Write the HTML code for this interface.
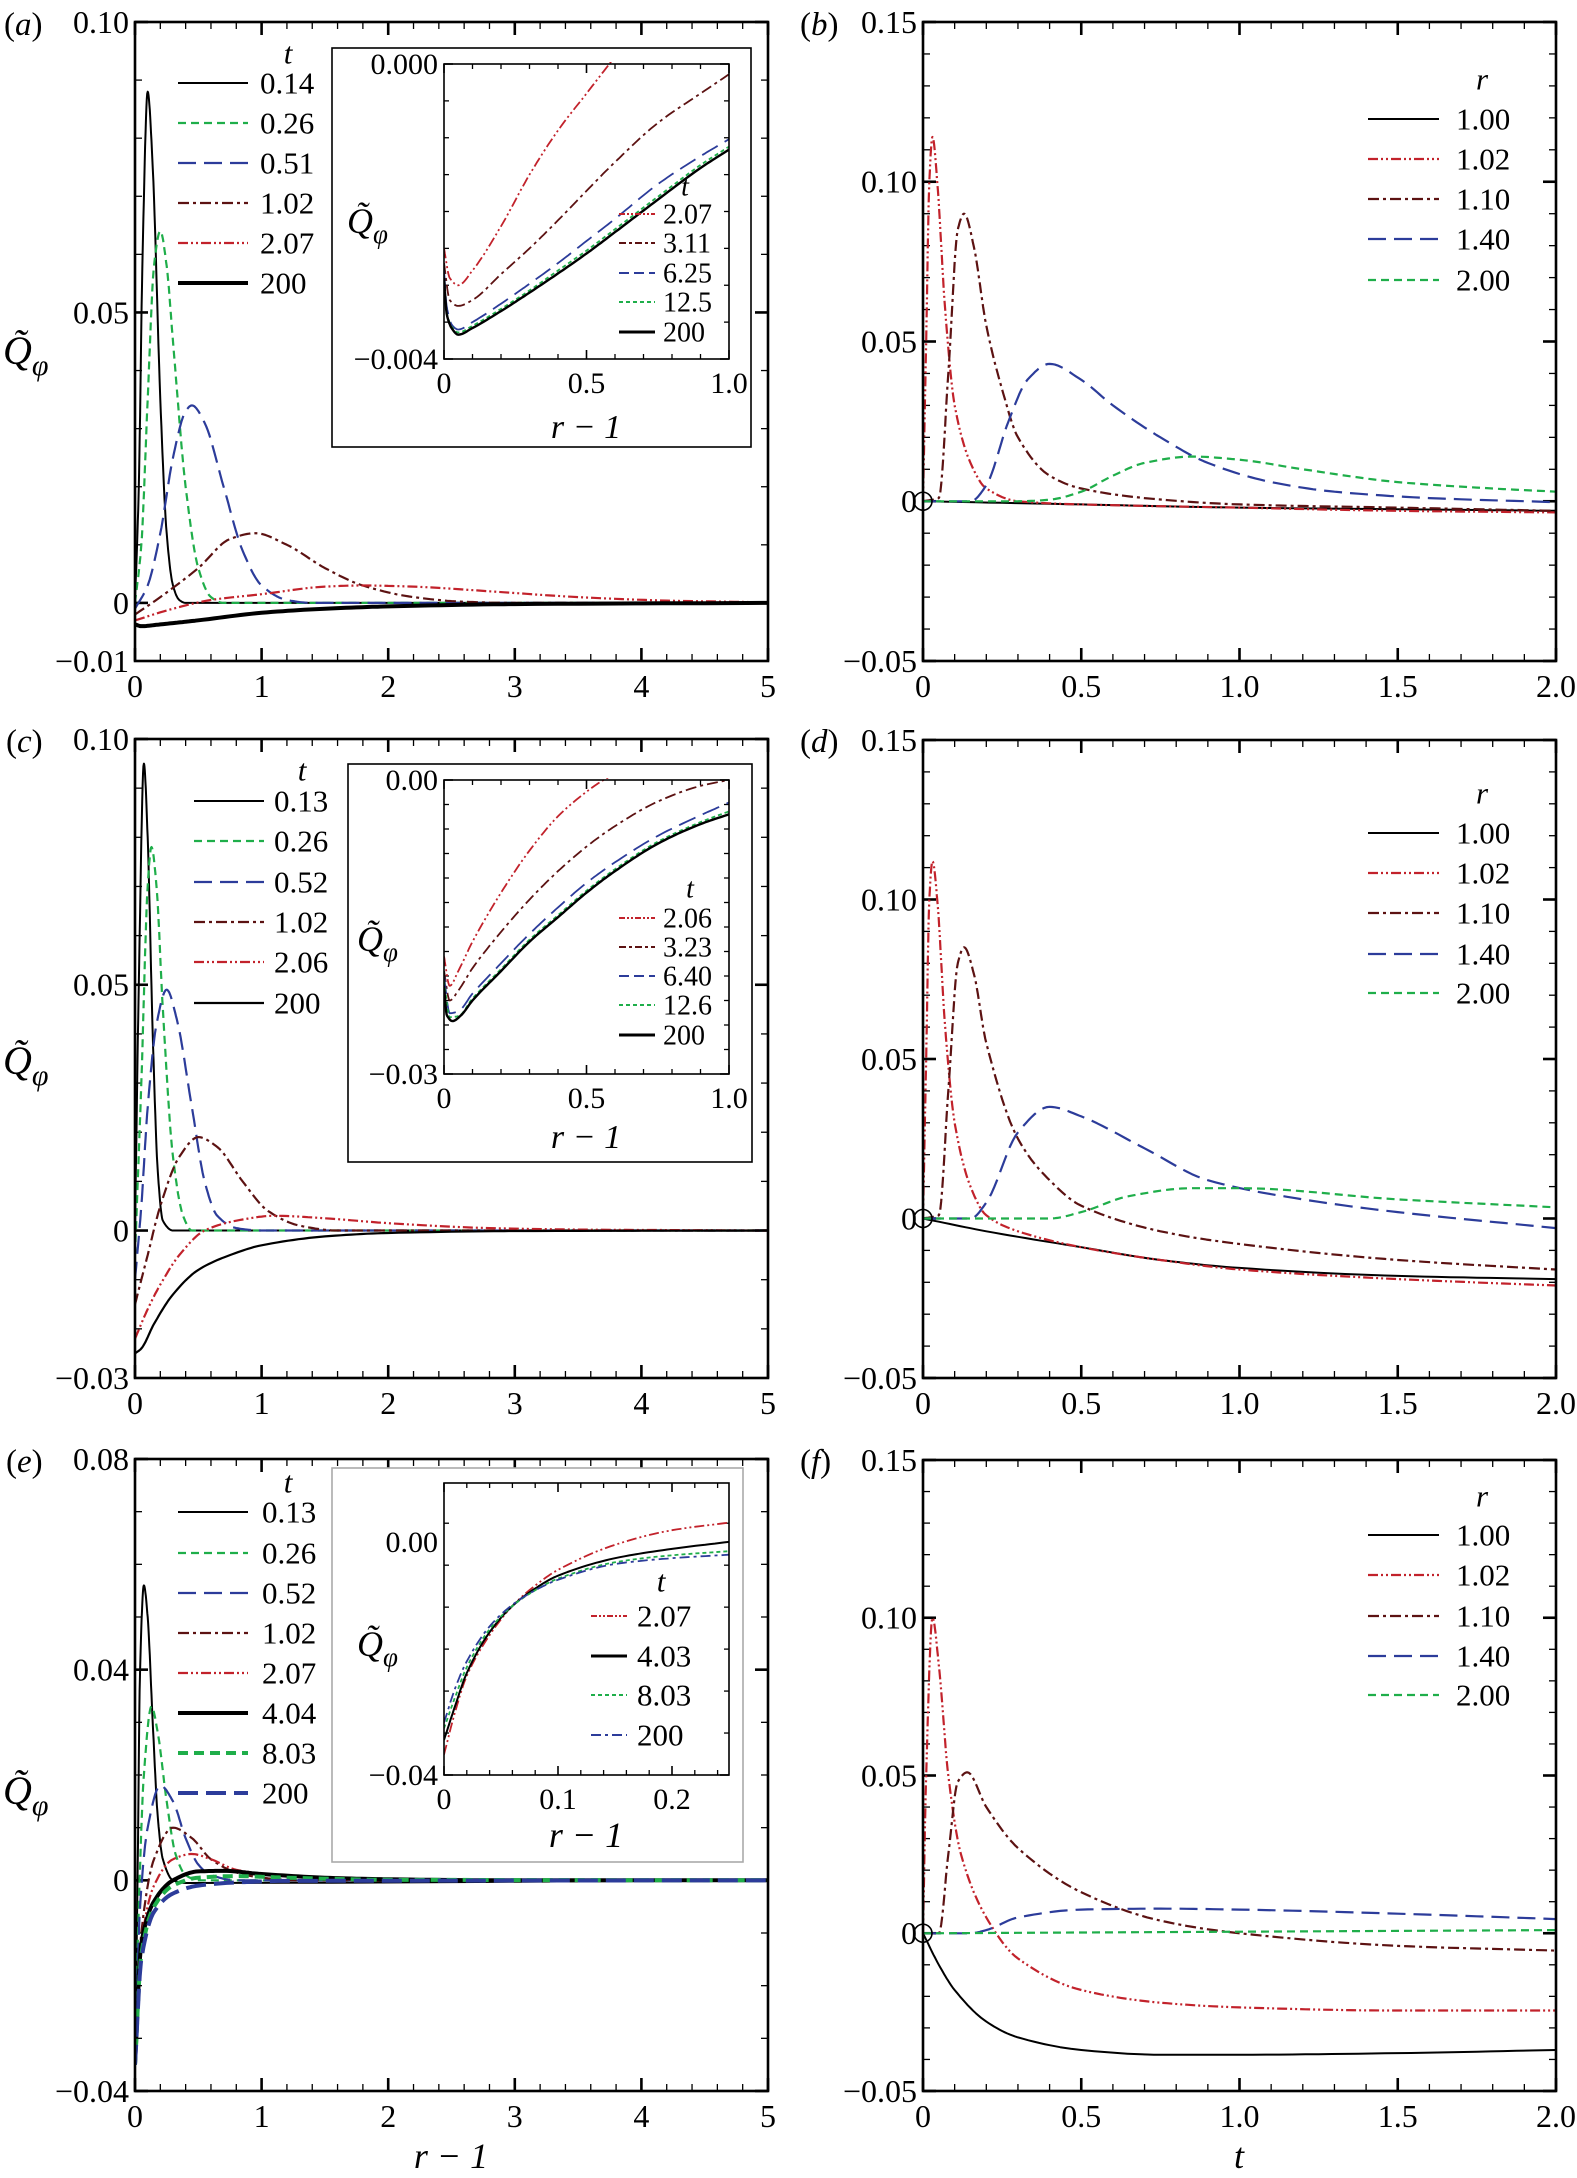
<!DOCTYPE html>
<html><head><meta charset="utf-8">
<style>
html,body{margin:0;padding:0;background:#fff;}
svg{display:block;}
svg text{font-family:"Liberation Serif","Times New Roman",serif;fill:#000;}
</style></head>
<body>
<svg id="fig" xmlns="http://www.w3.org/2000/svg" width="1577" height="2178" viewBox="0 0 1577 2178" font-family="Liberation Serif, serif"></svg>
<script>
// ---------- DATA ----------
const a_t014=[[0,0],[0.03,0.02],[0.06,0.06],[0.1,0.088],[0.14,0.075],[0.2,0.035],[0.25,0.012],[0.3,0.003],[0.35,0.0005],[0.4,0],[5,0]];
const a_t026=[[0,0],[0.05,0.01],[0.1,0.035],[0.15,0.058],[0.2,0.064],[0.25,0.058],[0.3,0.045],[0.4,0.02],[0.5,0.006],[0.6,0.001],[0.7,0],[5,0]];
const a_t051=[[0,-0.001],[0.1,0.003],[0.2,0.012],[0.3,0.025],[0.4,0.033],[0.45,0.034],[0.55,0.031],[0.7,0.02],[0.85,0.009],[1.0,0.003],[1.2,0.0005],[1.4,0],[5,0]];
const a_t102=[[0,-0.002],[0.2,0.001],[0.5,0.006],[0.75,0.011],[0.95,0.012],[1.2,0.010],[1.5,0.006],[1.8,0.003],[2.2,0.001],[2.6,0.0002],[3,0],[5,0]];
const a_t207=[[0,-0.003],[0.3,-0.001],[0.6,0.0005],[1.0,0.0015],[1.5,0.0028],[1.8,0.003],[2.2,0.0028],[2.8,0.002],[3.5,0.001],[4.2,0.0004],[5,0.0001]];
const a_t200=[[0,-0.0037],[0.05,-0.004],[0.2,-0.0037],[0.5,-0.003],[1,-0.0017],[1.5,-0.001],[2,-0.0006],[3,-0.0002],[5,0]];
const ai_t207=[[0,-0.0025],[0.02,-0.0029],[0.05,-0.003],[0.1,-0.0028],[0.2,-0.0022],[0.3,-0.0015],[0.4,-0.0009],[0.5,-0.0004],[0.58,0],[0.7,0.0006]];
const ai_t311=[[0,-0.0027],[0.02,-0.0032],[0.05,-0.00328],[0.1,-0.0032],[0.2,-0.00285],[0.3,-0.0025],[0.4,-0.00212],[0.5,-0.00172],[0.6,-0.00133],[0.75,-0.0008],[0.9,-0.0004],[1.0,-0.00014]];
const ai_t625=[[0,-0.0028],[0.01,-0.0033],[0.03,-0.00355],[0.05,-0.0036],[0.1,-0.0035],[0.2,-0.00325],[0.3,-0.00298],[0.4,-0.0027],[0.5,-0.0024],[0.6,-0.0021],[0.75,-0.00163],[0.9,-0.00125],[1.0,-0.00102]];
const ai_t125=[[0,-0.0029],[0.01,-0.00338],[0.03,-0.00358],[0.05,-0.00364],[0.1,-0.00355],[0.2,-0.00332],[0.3,-0.00307],[0.4,-0.0028],[0.5,-0.00253],[0.6,-0.00224],[0.75,-0.0018],[0.9,-0.00137],[1.0,-0.00112]];
const ai_t200=[[0,-0.0029],[0.01,-0.0034],[0.03,-0.0036],[0.05,-0.00367],[0.1,-0.00358],[0.2,-0.00335],[0.3,-0.0031],[0.4,-0.00284],[0.5,-0.00257],[0.6,-0.00228],[0.75,-0.00184],[0.9,-0.00141],[1.0,-0.00116]];
const b_r100=[[0,0],[0.5,-0.001],[1,-0.002],[1.5,-0.0025],[2,-0.003]];
const b_r102=[[0,0],[0.01,0.05],[0.02,0.1],[0.03,0.114],[0.045,0.1],[0.07,0.06],[0.1,0.03],[0.15,0.012],[0.2,0.004],[0.3,0],[0.5,-0.001],[1,-0.002],[1.5,-0.003],[2,-0.0035]];
const b_r110=[[0,0],[0.05,0.001],[0.08,0.04],[0.11,0.085],[0.13,0.09],[0.16,0.08],[0.2,0.055],[0.25,0.035],[0.3,0.02],[0.4,0.008],[0.5,0.004],[0.7,0.001],[1,-0.001],[1.5,-0.002],[2,-0.003]];
const b_r140=[[0,0],[0.15,0],[0.2,0.005],[0.27,0.025],[0.33,0.038],[0.4,0.043],[0.5,0.038],[0.6,0.03],[0.75,0.02],[0.9,0.012],[1.1,0.006],[1.3,0.003],[1.6,0.001],[2,-0.0003]];
const b_r200=[[0,0],[0.3,0],[0.4,0.0005],[0.5,0.003],[0.6,0.008],[0.7,0.012],[0.85,0.014],[1,0.013],[1.2,0.01],[1.5,0.006],[1.8,0.004],[2,0.003]];
const c_t013=[[0,0],[0.03,0.05],[0.07,0.095],[0.1,0.08],[0.14,0.04],[0.18,0.012],[0.22,0.002],[0.3,0],[5,0]];
const c_t026=[[0,-0.005],[0.05,0.03],[0.1,0.07],[0.13,0.078],[0.17,0.07],[0.22,0.045],[0.3,0.015],[0.38,0.003],[0.45,0],[5,0]];
const c_t052=[[0,-0.01],[0.05,0.005],[0.1,0.025],[0.17,0.042],[0.25,0.049],[0.33,0.043],[0.45,0.025],[0.55,0.01],[0.65,0.003],[0.8,0.0005],[1,0],[5,0]];
const c_t102=[[0,-0.015],[0.1,-0.005],[0.2,0.005],[0.35,0.015],[0.5,0.019],[0.65,0.017],[0.85,0.01],[1.05,0.004],[1.3,0.001],[1.6,0],[5,0]];
const c_t206=[[0,-0.022],[0.1,-0.016],[0.2,-0.011],[0.35,-0.005],[0.55,0],[0.8,0.002],[1.1,0.003],[1.5,0.0025],[2,0.0015],[2.8,0.0005],[3.5,0.0002],[5,0]];
const c_t200=[[0,-0.025],[0.05,-0.024],[0.15,-0.019],[0.3,-0.013],[0.5,-0.008],[0.75,-0.005],[1,-0.003],[1.5,-0.0012],[2,-0.0005],[3,-0.0001],[5,0]];
const ci_t206=[[0,-0.018],[0.02,-0.021],[0.05,-0.0195],[0.1,-0.0165],[0.2,-0.0115],[0.3,-0.0072],[0.4,-0.0037],[0.5,-0.0012],[0.56,0],[0.7,0.002]];
const ci_t323=[[0,-0.0195],[0.02,-0.0225],[0.05,-0.0215],[0.1,-0.0192],[0.2,-0.0155],[0.3,-0.0122],[0.4,-0.0093],[0.5,-0.0068],[0.6,-0.0047],[0.75,-0.0022],[0.9,-0.0006],[1.0,0]];
const ci_t640=[[0,-0.02],[0.02,-0.0238],[0.05,-0.0236],[0.1,-0.0218],[0.2,-0.0187],[0.3,-0.0157],[0.4,-0.013],[0.5,-0.0105],[0.6,-0.0084],[0.75,-0.0057],[0.9,-0.0036],[1.0,-0.0023]];
const ci_t126=[[0,-0.0205],[0.02,-0.0242],[0.05,-0.0241],[0.1,-0.0223],[0.2,-0.0193],[0.3,-0.0163],[0.4,-0.0138],[0.5,-0.0113],[0.6,-0.0091],[0.75,-0.0063],[0.9,-0.0043],[1.0,-0.0032]];
const ci_t200=[[0,-0.021],[0.01,-0.024],[0.03,-0.0246],[0.06,-0.024],[0.1,-0.0225],[0.2,-0.0195],[0.3,-0.0165],[0.4,-0.014],[0.5,-0.0115],[0.6,-0.0093],[0.75,-0.0065],[0.9,-0.0045],[1.0,-0.0035]];
const d_r100=[[0,0],[0.2,-0.004],[0.5,-0.009],[0.75,-0.013],[1,-0.0155],[1.5,-0.018],[2,-0.019]];
const d_r102=[[0,0],[0.01,0.05],[0.02,0.1],[0.03,0.112],[0.045,0.1],[0.07,0.06],[0.1,0.03],[0.15,0.01],[0.2,0.001],[0.3,-0.004],[0.5,-0.009],[0.75,-0.013],[1,-0.016],[1.5,-0.019],[2,-0.021]];
const d_r110=[[0,0],[0.05,0.001],[0.08,0.04],[0.11,0.08],[0.13,0.085],[0.16,0.077],[0.2,0.055],[0.3,0.025],[0.4,0.012],[0.5,0.004],[0.75,-0.004],[1,-0.008],[1.5,-0.013],[2,-0.016]];
const d_r140=[[0,0],[0.15,0],[0.2,0.005],[0.3,0.027],[0.4,0.035],[0.5,0.032],[0.7,0.022],[0.9,0.012],[1.2,0.006],[1.5,0.002],[2,-0.003]];
const d_r200=[[0,0],[0.4,0],[0.5,0.002],[0.65,0.007],[0.85,0.0095],[1.0,0.0095],[1.5,0.006],[2,0.0035]];
const e_t013=[[0,-0.035],[0.02,0],[0.04,0.04],[0.07,0.056],[0.1,0.05],[0.14,0.03],[0.18,0.012],[0.22,0.004],[0.3,0],[0.4,-0.0005],[5,0]];
const e_t026=[[0,-0.035],[0.03,-0.005],[0.07,0.02],[0.13,0.033],[0.18,0.028],[0.25,0.015],[0.32,0.005],[0.4,0.001],[0.5,0],[5,0]];
const e_t052=[[0,-0.035],[0.04,-0.005],[0.1,0.01],[0.2,0.018],[0.3,0.015],[0.4,0.008],[0.5,0.003],[0.6,0.001],[0.8,0],[5,0]];
const e_t102=[[0,-0.035],[0.05,-0.01],[0.15,0.004],[0.3,0.010],[0.45,0.008],[0.6,0.004],[0.8,0.0015],[1,0.0005],[1.3,0],[5,0]];
const e_t207=[[0,-0.035],[0.05,-0.012],[0.15,-0.001],[0.3,0.004],[0.45,0.005],[0.6,0.004],[0.8,0.002],[1.1,0.001],[1.5,0.0003],[2,0],[5,0]];
const e_t404=[[0,-0.035],[0.05,-0.012],[0.15,-0.004],[0.3,0],[0.5,0.0017],[0.7,0.0018],[1,0.0012],[1.5,0.0005],[2,0.0002],[3,0],[5,0]];
const e_t803=[[0,-0.035],[0.05,-0.014],[0.15,-0.005],[0.3,-0.001],[0.5,0.0005],[0.8,0.0008],[1.2,0.0005],[2,0.0001],[5,0]];
const e_t200=[[0,-0.035],[0.05,-0.015],[0.15,-0.006],[0.3,-0.0025],[0.5,-0.001],[0.8,-0.0004],[1.2,-0.0001],[5,0]];
const ei_t207=[[0,-0.0365],[0.01,-0.029],[0.02,-0.023],[0.04,-0.016],[0.06,-0.011],[0.08,-0.0075],[0.1,-0.0048],[0.15,-0.0005],[0.2,0.002],[0.25,0.0033]];
const ei_t403=[[0,-0.034],[0.01,-0.028],[0.02,-0.0225],[0.04,-0.0155],[0.06,-0.011],[0.08,-0.008],[0.1,-0.0058],[0.15,-0.0028],[0.2,-0.0012],[0.25,0]];
const ei_t803=[[0,-0.032],[0.01,-0.0265],[0.02,-0.0215],[0.04,-0.015],[0.06,-0.011],[0.08,-0.0083],[0.1,-0.0063],[0.15,-0.0035],[0.2,-0.0023],[0.25,-0.0016]];
const ei_t200=[[0,-0.031],[0.01,-0.025],[0.02,-0.0205],[0.04,-0.0145],[0.06,-0.0108],[0.08,-0.0083],[0.1,-0.0065],[0.15,-0.0038],[0.2,-0.0028],[0.25,-0.0022]];
const f_r100=[[0,0],[0.05,-0.01],[0.1,-0.018],[0.2,-0.028],[0.3,-0.033],[0.5,-0.037],[0.75,-0.0385],[1,-0.0385],[1.5,-0.038],[2,-0.037]];
const f_r102=[[0,0],[0.01,0.05],[0.03,0.1],[0.05,0.085],[0.08,0.05],[0.12,0.025],[0.2,0.005],[0.3,-0.008],[0.5,-0.018],[0.75,-0.022],[1,-0.0235],[1.5,-0.0245],[2,-0.0245]];
const f_r110=[[0,0],[0.05,0],[0.08,0.025],[0.11,0.048],[0.14,0.051],[0.2,0.04],[0.3,0.027],[0.5,0.013],[0.75,0.004],[1,0],[1.5,-0.004],[2,-0.0055]];
const f_r140=[[0,0],[0.15,0],[0.2,0.001],[0.3,0.005],[0.5,0.0075],[0.75,0.0078],[1,0.0075],[1.5,0.0062],[2,0.0045]];
const f_r200=[[0,0],[2,0.001]];

const mainRLabels=["0","1","2","3","4","5"];
const tLabels=["0","0.5","1.0","1.5","2.0"];

const RED="#c2222b", DRED="#5c1212", BLUE="#2c3c9a", GREEN="#1fae4a", BLK="#000";
const S_GREEN="8,5", S_BLUE="18,8", S_DD="11,4,3,4", S_RED="10,3,2,3,2,3";
const FONT='"Liberation Serif", "Times New Roman", serif';

const NS="http://www.w3.org/2000/svg";
const svg=document.getElementById('fig');
function mk(tag,attrs,parent){const e=document.createElementNS(NS,tag);for(const k in attrs)e.setAttribute(k,attrs[k]);if(tag==='text')e.setAttribute('font-family',FONT);(parent||svg).appendChild(e);return e;}

function mono(pts,n){
  const xs=pts.map(p=>p[0]),ys=pts.map(p=>p[1]),m=xs.length;
  if(m<3)return pts;
  const d=[],s=[];
  for(let i=0;i<m-1;i++){d.push((ys[i+1]-ys[i])/(xs[i+1]-xs[i]));}
  s[0]=d[0];s[m-1]=d[m-2];
  for(let i=1;i<m-1;i++){ if(d[i-1]*d[i]<=0)s[i]=0; else {s[i]=2/(1/d[i-1]+1/d[i]);} }
  const out=[];
  for(let i=0;i<m-1;i++){
    const h=xs[i+1]-xs[i];
    for(let k=0;k<n;k++){const t=k/n,t2=t*t,t3=t2*t;
      const y=(2*t3-3*t2+1)*ys[i]+(t3-2*t2+t)*h*s[i]+(-2*t3+3*t2)*ys[i+1]+(t3-t2)*h*s[i+1];
      out.push([xs[i]+t*h,y]);}
  }
  out.push(pts[m-1]);return out;
}
let clipN=0;

function panel(c){
  const sx=v=>c.L+(v-c.x0)/(c.x1-c.x0)*(c.R-c.L);
  const sy=v=>c.B-(v-c.y0)/(c.y1-c.y0)*(c.B-c.T);
  const g=mk('g',{});
  
  
  if(c.box){const b=mk('rect',{x:c.box[0],y:c.box[1],width:c.box[2]-c.box[0],height:c.box[3]-c.box[1],fill:'#fff',stroke:c.boxColor||'#000','stroke-width':1.6},g);
    }
  const id='clip'+(clipN++);
  const cp=mk('clipPath',{id:id},g);mk('rect',{x:c.L,y:c.T-2,width:c.R-c.L,height:c.B-c.T+4},cp);
  const lw=c.inset?1.6:2.6, maj=c.inset?9:13, mnr=c.inset?5:7;
  const tg=mk('g',{stroke:'#000'},g);
  
  const eps=1e-9;
  for(let v=c.x0;v<=c.x1+eps;v+=c.xMinor){const X=sx(v);const isM=c.xMajor.some(m=>Math.abs(m-v)<c.xMinor/10);const L=isM?maj:mnr;const w=isM?lw:1.3;
    mk('line',{x1:X,y1:c.B,x2:X,y2:c.B-L,'stroke-width':w},tg);mk('line',{x1:X,y1:c.T,x2:X,y2:c.T+L,'stroke-width':w},tg);}
  for(let v=c.y0;v<=c.y1+eps;v+=c.yMinor){const Y=sy(v);const isM=c.yMajor.some(m=>Math.abs(m-v)<c.yMinor/10);const L=isM?maj:mnr;const w=isM?lw:1.3;
    mk('line',{x1:c.L,y1:Y,x2:c.L+L,y2:Y,'stroke-width':w},tg);mk('line',{x1:c.R,y1:Y,x2:c.R-L,y2:Y,'stroke-width':w},tg);}
  const sg=mk('g',{'clip-path':'url(#'+id+')',fill:'none'},g);
  c.series.forEach(s=>{
    const pts=mono(s.data,12).map(p=>sx(p[0]).toFixed(1)+','+sy(p[1]).toFixed(1)).join(' ');
    const pl=mk('polyline',{points:pts,stroke:s.color,'stroke-width':s.w||2,'stroke-dasharray':s.dash||'none','stroke-linejoin':'round'},sg);
    
    
  });
  if(c.circle){const ci=mk('circle',{cx:sx(0),cy:sy(0),r:9,fill:'none',stroke:'#000','stroke-width':1.6},g);
    }
  const fr=mk('rect',{x:c.L,y:c.T,width:c.R-c.L,height:c.B-c.T,fill:'none',stroke:'#000','stroke-width':lw},g);
  
  const fs=c.fs||32;
  c.xLabelVals.forEach((v,i)=>{const t=mk('text',{x:sx(v),y:c.B+fs+4,'text-anchor':'middle','font-size':fs},g);t.textContent=c.xLabels[i];
    });
  c.yLabelVals.forEach((v,i)=>{const t=mk('text',{x:c.L-6,y:sy(v)+fs*0.34,'text-anchor':'end','font-size':fs},g);t.textContent=c.yLabels[i];
    });
  return {sx,sy};
}
function legend(x1,x2,tx,rows,entries,title,titleX,titleY,fs,name){
  const g=mk('g',{});
  
  
  const tt=mk('text',{x:titleX,y:titleY+fs*0.34,'text-anchor':'middle','font-size':fs,'font-style':'italic'},g);tt.textContent=title;
  entries.forEach((e,i)=>{
    const ln=mk('line',{x1:x1,y1:rows[i],x2:x2,y2:rows[i],stroke:e.color,'stroke-width':e.w||2,'stroke-dasharray':e.dash||'none'},g);
    
    const t=mk('text',{x:tx,y:rows[i]+fs*0.34,'font-size':fs},g);t.textContent=e.label;
    
  });
}
function qlabel(x,y,fs,name){
  const t=mk('text',{x:x,y:y+fs*0.3,'font-size':fs,'font-style':'italic'});
  
  const a=mk('tspan',{},t);a.textContent="Q\u0303";
  const b=mk('tspan',{dy:fs*0.28,'font-size':fs*0.75},t);b.textContent="\u03c6";
}
function txt(x,y,s,fs,anchor,name,italic){const t=mk('text',{x:x,y:y,'font-size':fs,'text-anchor':anchor||'start'});if(italic)t.setAttribute('font-style','italic');t.textContent=s;
  return t;}
function plabel(x,y,letter,name){const t=mk('text',{x:x,y:y,'font-size':33});
  const a=mk('tspan',{},t);a.textContent="(";const b=mk('tspan',{'font-style':'italic'},t);b.textContent=letter;const c=mk('tspan',{},t);c.textContent=")";}

const T1=[0,0.5,1,1.5,2];
const LFS=31, IFS=30, ILFS=28;
// ---------- PANEL A ----------
panel({name:'panel-a',L:135,R:768,T:22,B:661,x0:0,x1:5,y0:-0.01,y1:0.10,xMinor:0.2,xMajor:[0,1,2,3,4,5],yMinor:0.01,yMajor:[0,0.05,0.10],
  xLabelVals:[0,1,2,3,4,5],xLabels:mainRLabels,yLabelVals:[0.10,0.05,0,-0.01],yLabels:["0.10","0.05","0","\u22120.01"],
  series:[{data:a_t014,color:BLK,w:2,name:'curve-t-0.14'},{data:a_t026,color:GREEN,dash:S_GREEN,w:2.2,name:'curve-t-0.26'},{data:a_t051,color:BLUE,dash:S_BLUE,w:2.2,name:'curve-t-0.51'},
   {data:a_t102,color:DRED,dash:S_DD,w:2.2,name:'curve-t-1.02'},{data:a_t207,color:RED,dash:S_RED,w:2.2,name:'curve-t-2.07'},{data:a_t200,color:BLK,w:4,name:'curve-t-200'}]});
legend(178,248,260,[83,123,163,203,243,283],[{label:"0.14",color:BLK},{label:"0.26",color:GREEN,dash:S_GREEN,w:2.2},{label:"0.51",color:BLUE,dash:S_BLUE,w:2.2},{label:"1.02",color:DRED,dash:S_DD,w:2.2},{label:"2.07",color:RED,dash:S_RED,w:2.2},{label:"200",color:BLK,w:4}],"t",288,53,LFS,'legend-a');
panel({name:'inset-a',inset:true,fs:IFS,box:[332,48,751,447],L:444,R:729,T:64,B:359,x0:0,x1:1,y0:-0.004,y1:0,xMinor:0.1,xMajor:[0,0.5,1],yMinor:0.0005,yMajor:[0,-0.004],
  xLabelVals:[0,0.5,1],xLabels:["0","0.5","1.0"],yLabelVals:[0,-0.004],yLabels:["0.000","\u22120.004"],
  series:[{data:ai_t207,color:RED,dash:S_RED,w:1.8,name:'inset-curve-t-2.07'},{data:ai_t311,color:DRED,dash:S_DD,w:1.8,name:'inset-curve-t-3.11'},{data:ai_t625,color:BLUE,dash:S_BLUE,w:1.8,name:'inset-curve-t-6.25'},
   {data:ai_t125,color:GREEN,dash:"4,3",w:1.8,name:'inset-curve-t-12.5'},{data:ai_t200,color:BLK,w:2.4,name:'inset-curve-t-200'}]});
legend(619,655,663,[214,243,273,302,332],[{label:"2.07",color:RED,dash:"6,2,2,2,2,2"},{label:"3.11",color:DRED,dash:"7,3,3,3"},{label:"6.25",color:BLUE,dash:"10,5"},{label:"12.5",color:GREEN,dash:"4,3"},{label:"200",color:BLK,w:3}],"t",685,186,ILFS,'inset-legend-a');
qlabel(347,222,36,'inset-a-y-axis-title');
txt(586,438,"r \u2212 1",34,'middle','inset-a-x-axis-title',true);
qlabel(3,352,40,'panel-a-y-axis-title');
plabel(4,35,"a",'panel-a-label');

// ---------- PANEL B ----------
const bS=[{data:b_r100,color:BLK,w:2,name:'curve-r-1.00'},{data:b_r102,color:RED,dash:S_RED,w:2.2,name:'curve-r-1.02'},{data:b_r110,color:DRED,dash:S_DD,w:2.2,name:'curve-r-1.10'},{data:b_r140,color:BLUE,dash:S_BLUE,w:2.2,name:'curve-r-1.40'},{data:b_r200,color:GREEN,dash:S_GREEN,w:2.2,name:'curve-r-2.00'}];
panel({name:'panel-b',circle:true,L:923,R:1556,T:22,B:661,x0:0,x1:2,y0:-0.05,y1:0.15,xMinor:0.1,xMajor:T1,yMinor:0.01,yMajor:[-0.05,0,0.05,0.10,0.15],
  xLabelVals:T1,xLabels:tLabels,yLabelVals:[0.15,0.10,0.05,0,-0.05],yLabels:["0.15","0.10","0.05","0","\u22120.05"],series:bS});
const rLeg=[{label:"1.00",color:BLK},{label:"1.02",color:RED,dash:S_RED,w:2.2},{label:"1.10",color:DRED,dash:S_DD,w:2.2},{label:"1.40",color:BLUE,dash:S_BLUE,w:2.2},{label:"2.00",color:GREEN,dash:S_GREEN,w:2.2}];
legend(1368,1439,1456,[119,159,199,239,280],rLeg,"r",1482,79,LFS,'legend-b');
plabel(800,35,"b",'panel-b-label');

// ---------- PANEL C ----------
panel({name:'panel-c',L:135,R:768,T:739,B:1378,x0:0,x1:5,y0:-0.03,y1:0.10,xMinor:0.2,xMajor:[0,1,2,3,4,5],yMinor:0.01,yMajor:[0,0.05,0.10],
  xLabelVals:[0,1,2,3,4,5],xLabels:mainRLabels,yLabelVals:[0.10,0.05,0,-0.03],yLabels:["0.10","0.05","0","\u22120.03"],
  series:[{data:c_t013,color:BLK,w:2,name:'curve-t-0.13'},{data:c_t026,color:GREEN,dash:S_GREEN,w:2.2,name:'curve-t-0.26'},{data:c_t052,color:BLUE,dash:S_BLUE,w:2.2,name:'curve-t-0.52'},
   {data:c_t102,color:DRED,dash:S_DD,w:2.2,name:'curve-t-1.02'},{data:c_t206,color:RED,dash:S_RED,w:2.2,name:'curve-t-2.06'},{data:c_t200,color:BLK,w:2.2,name:'curve-t-200'}]});
legend(194,264,274,[801,841,882,922,962,1003],[{label:"0.13",color:BLK},{label:"0.26",color:GREEN,dash:S_GREEN,w:2.2},{label:"0.52",color:BLUE,dash:S_BLUE,w:2.2},{label:"1.02",color:DRED,dash:S_DD,w:2.2},{label:"2.06",color:RED,dash:S_RED,w:2.2},{label:"200",color:BLK,w:2.2}],"t",302,770,LFS,'legend-c');
panel({name:'inset-c',inset:true,fs:IFS,box:[348,764,752,1162],L:444,R:729,T:780,B:1074,x0:0,x1:1,y0:-0.03,y1:0,xMinor:0.1,xMajor:[0,0.5,1],yMinor:0.0025,yMajor:[0,-0.03],
  xLabelVals:[0,0.5,1],xLabels:["0","0.5","1.0"],yLabelVals:[0,-0.03],yLabels:["0.00","\u22120.03"],
  series:[{data:ci_t206,color:RED,dash:S_RED,w:1.8,name:'inset-curve-t-2.06'},{data:ci_t323,color:DRED,dash:S_DD,w:1.8,name:'inset-curve-t-3.23'},{data:ci_t640,color:BLUE,dash:S_BLUE,w:1.8,name:'inset-curve-t-6.40'},
   {data:ci_t126,color:GREEN,dash:"4,3",w:1.8,name:'inset-curve-t-12.6'},{data:ci_t200,color:BLK,w:2.4,name:'inset-curve-t-200'}]});
legend(619,655,663,[918,947,976,1005,1035],[{label:"2.06",color:RED,dash:"6,2,2,2,2,2"},{label:"3.23",color:DRED,dash:"7,3,3,3"},{label:"6.40",color:BLUE,dash:"10,5"},{label:"12.6",color:GREEN,dash:"4,3"},{label:"200",color:BLK,w:3}],"t",690,888,ILFS,'inset-legend-c');
qlabel(357,940,36,'inset-c-y-axis-title');
txt(586,1148,"r \u2212 1",34,'middle','inset-c-x-axis-title',true);
qlabel(3,1062,40,'panel-c-y-axis-title');
plabel(6,752,"c",'panel-c-label');

// ---------- PANEL D ----------
panel({name:'panel-d',circle:true,L:923,R:1556,T:740,B:1378,x0:0,x1:2,y0:-0.05,y1:0.15,xMinor:0.1,xMajor:T1,yMinor:0.01,yMajor:[-0.05,0,0.05,0.10,0.15],
  xLabelVals:T1,xLabels:tLabels,yLabelVals:[0.15,0.10,0.05,0,-0.05],yLabels:["0.15","0.10","0.05","0","\u22120.05"],
  series:[{data:d_r100,color:BLK,w:2,name:'curve-r-1.00'},{data:d_r102,color:RED,dash:S_RED,w:2.2,name:'curve-r-1.02'},{data:d_r110,color:DRED,dash:S_DD,w:2.2,name:'curve-r-1.10'},{data:d_r140,color:BLUE,dash:S_BLUE,w:2.2,name:'curve-r-1.40'},{data:d_r200,color:GREEN,dash:S_GREEN,w:2.2,name:'curve-r-2.00'}]});
legend(1368,1439,1456,[833,873,913,954,993],rLeg,"r",1482,793,LFS,'legend-d');
plabel(800,752,"d",'panel-d-label');

// ---------- PANEL E ----------
panel({name:'panel-e',L:135,R:768,T:1459,B:2091,x0:0,x1:5,y0:-0.04,y1:0.08,xMinor:0.2,xMajor:[0,1,2,3,4,5],yMinor:0.01,yMajor:[-0.04,0,0.04,0.08],
  xLabelVals:[0,1,2,3,4,5],xLabels:mainRLabels,yLabelVals:[0.08,0.04,0,-0.04],yLabels:["0.08","0.04","0","\u22120.04"],
  series:[{data:e_t013,color:BLK,w:2,name:'curve-t-0.13'},{data:e_t026,color:GREEN,dash:S_GREEN,w:2.2,name:'curve-t-0.26'},{data:e_t052,color:BLUE,dash:S_BLUE,w:2.2,name:'curve-t-0.52'},
   {data:e_t102,color:DRED,dash:S_DD,w:2.2,name:'curve-t-1.02'},{data:e_t207,color:RED,dash:S_RED,w:2.2,name:'curve-t-2.07'},{data:e_t404,color:BLK,w:4,name:'curve-t-4.04'},
   {data:e_t803,color:GREEN,dash:"10,6",w:4,name:'curve-t-8.03'},{data:e_t200,color:BLUE,dash:"20,8",w:4,name:'curve-t-200'}]});
legend(178,248,262,[1512,1553,1593,1633,1673,1713,1753,1793],[{label:"0.13",color:BLK},{label:"0.26",color:GREEN,dash:S_GREEN,w:2.2},{label:"0.52",color:BLUE,dash:S_BLUE,w:2.2},{label:"1.02",color:DRED,dash:S_DD,w:2.2},{label:"2.07",color:RED,dash:S_RED,w:2.2},{label:"4.04",color:BLK,w:4},{label:"8.03",color:GREEN,dash:"10,6",w:4},{label:"200",color:BLUE,dash:"20,8",w:4}],"t",288,1482,LFS,'legend-e');
panel({name:'inset-e',inset:true,fs:IFS,box:[332,1468,743,1862],boxColor:'#aaa',L:444,R:729,T:1483,B:1775,x0:0,x1:0.25,y0:-0.04,y1:0.0101,xMinor:0.02,xMajor:[0,0.1,0.2],yMinor:0.0072,yMajor:[0,-0.04],
  xLabelVals:[0,0.1,0.2],xLabels:["0","0.1","0.2"],yLabelVals:[0,-0.04],yLabels:["0.00","\u22120.04"],
  series:[{data:ei_t207,color:RED,dash:S_RED,w:1.8,name:'inset-curve-t-2.07'},{data:ei_t403,color:BLK,w:2,name:'inset-curve-t-4.03'},{data:ei_t803,color:GREEN,dash:"4,3",w:1.8,name:'inset-curve-t-8.03'},{data:ei_t200,color:BLUE,dash:"10,4,3,4",w:1.8,name:'inset-curve-t-200'}]});
legend(591,627,637,[1616,1656,1695,1735],[{label:"2.07",color:RED,dash:"6,2,2,2,2,2"},{label:"4.03",color:BLK,w:3},{label:"8.03",color:GREEN,dash:"4,3"},{label:"200",color:BLUE,dash:"10,4,3,4"}],"t",661,1581,LFS,'inset-legend-e');
qlabel(357,1645,36,'inset-e-y-axis-title');
txt(586,1847,"r \u2212 1",36,'middle','inset-e-x-axis-title',true);
qlabel(3,1792,40,'panel-e-y-axis-title');
plabel(6,1472,"e",'panel-e-label');
txt(451,2168,"r \u2212 1",36,'middle','panel-e-x-axis-title',true);

// ---------- PANEL F ----------
panel({name:'panel-f',circle:true,L:923,R:1556,T:1460,B:2091,x0:0,x1:2,y0:-0.05,y1:0.15,xMinor:0.1,xMajor:T1,yMinor:0.01,yMajor:[-0.05,0,0.05,0.10,0.15],
  xLabelVals:T1,xLabels:tLabels,yLabelVals:[0.15,0.10,0.05,0,-0.05],yLabels:["0.15","0.10","0.05","0","\u22120.05"],
  series:[{data:f_r100,color:BLK,w:2,name:'curve-r-1.00'},{data:f_r102,color:RED,dash:S_RED,w:2.2,name:'curve-r-1.02'},{data:f_r110,color:DRED,dash:S_DD,w:2.2,name:'curve-r-1.10'},{data:f_r140,color:BLUE,dash:S_BLUE,w:2.2,name:'curve-r-1.40'},{data:f_r200,color:GREEN,dash:S_GREEN,w:2.2,name:'curve-r-2.00'}]});
legend(1368,1439,1456,[1535,1575,1616,1656,1695],rLeg,"r",1482,1496,LFS,'legend-f');
plabel(800,1472,"f",'panel-f-label');
txt(1239,2168,"t",36,'middle','panel-f-x-axis-title',true);
</script>
</body></html>
